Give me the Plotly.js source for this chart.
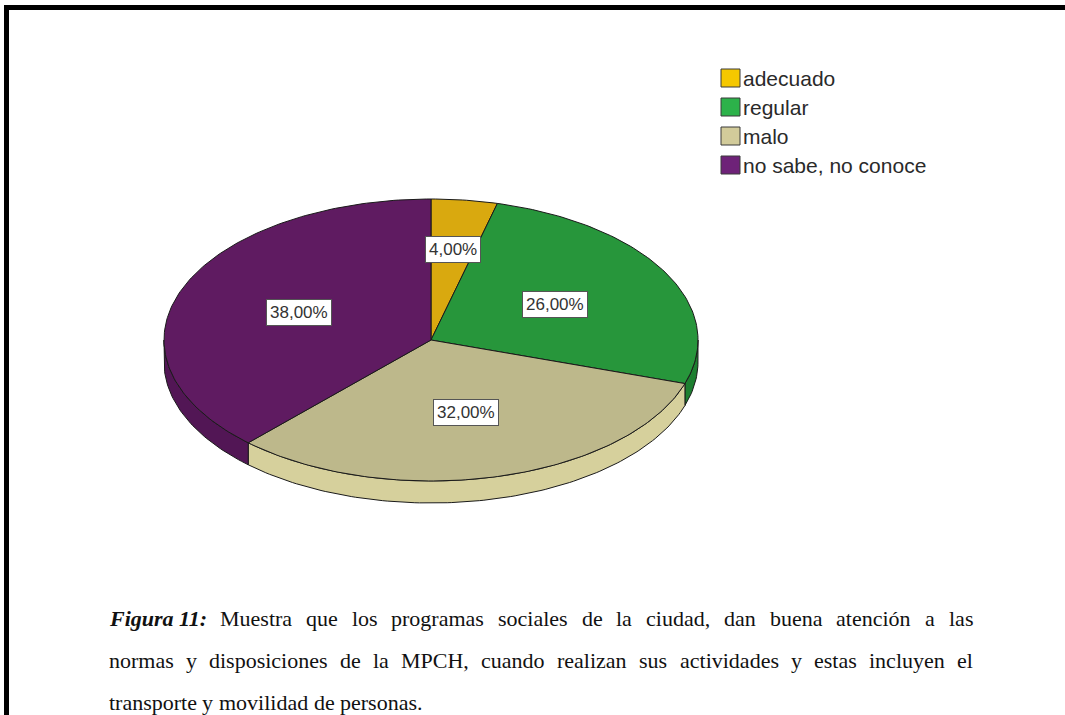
<!DOCTYPE html>
<html><head><meta charset="utf-8">
<script src="https://cdn.plot.ly/plotly-3.0.1.min.js"></script>
<style>html,body{margin:0;padding:0;background:#fff}#chart{width:1065px;height:715px}</style>
</head><body><div id="chart"></div>
<script>
// ---- data ----
const categories = ['adecuado', 'regular', 'malo', 'no sabe, no conoce'];
const percentages = [4, 26, 32, 38];
const sliceLabels = ['4,00%', '26,00%', '32,00%', '38,00%'];
const topColors = ['#d9a90f', '#27963b', '#bdb88b', '#5f1b61'];
const sideColors = ['#b88e0a', '#1d7f30', '#d6d09c', '#521655'];
const legendColors = ['#f5c800', '#2cb24a', '#d2cb9a', '#6e2278'];
const captionLead = 'Figura 11:';
const captionLines = [
  'Muestra que los programas sociales de la ciudad, dan buena atención a las',
  'normas y disposiciones de la MPCH, cuando realizan sus actividades y estas incluyen el',
  'transporte y movilidad de personas.'
];
const captionJustified = [true, true, false];

// ---- geometry (layout) ----
const CX = 431, CY = 340, RX = 267, RY = 141, DEPTH = 22;
const W = 1065, H = 715;
function pt(theta, dy, f) {
  f = f === undefined ? 1 : f;
  return [CX + f * RX * Math.sin(theta), CY - f * RY * Math.cos(theta) + dy];
}
function arc(a0, a1, dy) {
  const n = Math.max(2, Math.ceil(Math.abs(a1 - a0) / (Math.PI / 180)));
  const xs = [], ys = [];
  for (let i = 0; i <= n; i++) {
    const p = pt(a0 + (a1 - a0) * i / n, dy);
    xs.push(p[0]); ys.push(p[1]);
  }
  return [xs, ys];
}

const total = percentages.reduce((a, b) => a + b, 0);
const starts = [], ends = [];
let acc = 0;
percentages.forEach(v => {
  starts.push(acc / total * 2 * Math.PI);
  acc += v;
  ends.push(acc / total * 2 * Math.PI);
});

const traces = [];
// sides (front half)
categories.forEach((c, i) => {
  const s = Math.max(starts[i], Math.PI / 2), e = Math.min(ends[i], 3 * Math.PI / 2);
  if (e <= s) return;
  const top = arc(s, e, 0), bot = arc(e, s, DEPTH);
  traces.push({
    type: 'scatter', mode: 'lines', x: top[0].concat(bot[0], [top[0][0]]),
    y: top[1].concat(bot[1], [top[1][0]]), fill: 'toself', fillcolor: sideColors[i],
    line: {color: '#1a1a1a', width: 1}, hoverinfo: 'skip', showlegend: false
  });
});
// top faces
categories.forEach((c, i) => {
  const a = arc(starts[i], ends[i], 0);
  traces.push({
    type: 'scatter', mode: 'lines', name: c,
    x: [CX].concat(a[0], [CX]), y: [CY].concat(a[1], [CY]),
    fill: 'toself', fillcolor: topColors[i],
    line: {color: '#1a1a1a', width: 1}, hoverinfo: 'skip', showlegend: false
  });
});

const annotations = [];
const shapes = [];
// slice labels
categories.forEach((c, i) => {
  const mid = (starts[i] + ends[i]) / 2;
  const f = percentages[i] / total < 0.1 ? 0.65 : 0.53;
  const p = pt(mid, 0, f);
  annotations.push({
    x: p[0], y: p[1], xref: 'x', yref: 'y', text: sliceLabels[i], showarrow: false,
    font: {family: 'Liberation Sans, Arial, sans-serif', size: 17, color: '#333'},
    bgcolor: '#ffffff', bordercolor: '#555', borderwidth: 1, borderpad: 3
  });
});
// legend
const LX = 721, LY = 78, LSTEP = 29;
categories.forEach((c, i) => {
  const y = LY + i * LSTEP;
  shapes.push({type: 'rect', xref: 'x', yref: 'y', x0: LX, x1: LX + 19, y0: y - 9, y1: y + 9,
    fillcolor: legendColors[i], line: {color: '#3a3a3a', width: 1}});
  annotations.push({x: LX + 20, y: y, xref: 'x', yref: 'y', xanchor: 'left', yanchor: 'middle',
    text: c, showarrow: false,
    font: {family: 'Liberation Sans, Arial, sans-serif', size: 21, color: '#2a2a2a'}});
});
// caption (justified by measuring words)
const CAP_L = 108, CAP_R = 972, capY = [618, 660, 702];
const FS = 22;
const ctx = document.createElement('canvas').getContext('2d');
function measure(t, bi) {
  ctx.font = (bi ? 'bold italic ' : '') + FS + 'px "Liberation Serif"';
  return ctx.measureText(t).width;
}
captionLines.forEach((line, li) => {
  const tokens = line.split(' ').map(w => ({t: w, bi: false}));
  if (li === 0) tokens.unshift({t: captionLead, bi: true});
  const widths = tokens.map(k => measure(k.t, k.bi));
  const sum = widths.reduce((a, b) => a + b, 0);
  const gap = captionJustified[li] ? (CAP_R - CAP_L - sum) / (tokens.length - 1) : measure(' ', false);
  let x = CAP_L;
  tokens.forEach((k, j) => {
    annotations.push({x: x, y: capY[li], xref: 'x', yref: 'y', xanchor: 'left', yanchor: 'middle',
      text: k.bi ? '<b><i>' + k.t + '</i></b>' : k.t, showarrow: false, borderpad: 0,
      font: {family: 'Liberation Serif, Times New Roman, serif', size: FS, color: '#111'}});
    x += widths[j] + gap;
  });
});
// frame
shapes.push({type: 'line', xref: 'x', yref: 'y', x0: 6.5, x1: 6.5, y0: 5, y1: H, line: {color: '#000', width: 5}});
shapes.push({type: 'line', xref: 'x', yref: 'y', x0: 4, x1: W, y0: 7.5, y1: 7.5, line: {color: '#000', width: 5}});

Plotly.newPlot('chart', traces, {
  width: W, height: H, margin: {l: 0, r: 0, t: 0, b: 0},
  paper_bgcolor: '#fff', plot_bgcolor: '#fff', showlegend: false,
  xaxis: {range: [0, W], visible: false, fixedrange: true},
  yaxis: {range: [H, 0], visible: false, fixedrange: true},
  annotations: annotations, shapes: shapes
}, {staticPlot: true});
</script></body></html>
